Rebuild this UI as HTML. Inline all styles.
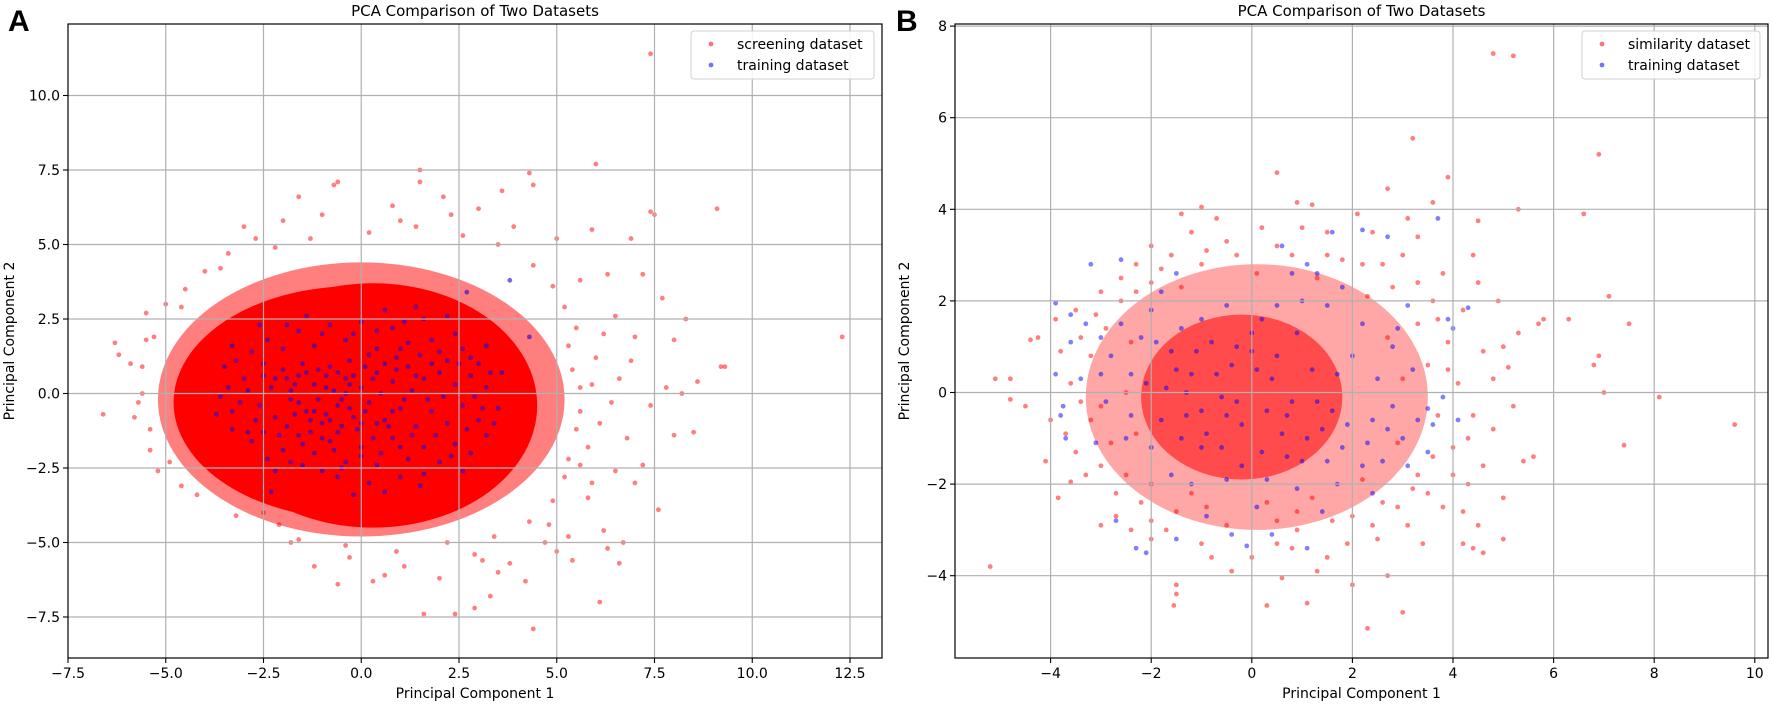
<!DOCTYPE html>
<html><head><meta charset="utf-8"><style>
html,body{margin:0;padding:0;background:#fff;}
svg{display:block;font-family:"DejaVu Sans","Liberation Sans",sans-serif;}
</style></head><body>
<svg id="fig" width="1772" height="705" viewBox="0 0 1772 705" xmlns="http://www.w3.org/2000/svg"></svg>
<script>
// ---------- Panel A data ----------
const aXTicks = [-7.5,-5.0,-2.5,0.0,2.5,5.0,7.5,10.0,12.5];
const aYTicks = [-7.5,-5.0,-2.5,0.0,2.5,5.0,7.5,10.0];
// dense regions of screening dataset: [cx, cy, rx, ry] in data units
const aCore = [-0.2,-0.3,4.6,3.9];
const aCore2 = [0.3,-0.4,4.2,4.1];
const aHalo = [0.0,-0.2,5.2,4.6];
const aRedOutliers = [7.4,11.4, 12.3,1.9, 9.2,0.9, 9.1,6.2, 6.0,7.7, 7.4,6.1, 7.5,6.0, 4.3,7.4, 4.4,7.0, 1.5,7.5, 1.5,7.1, -0.7,7.0, -0.6,7.1, -1.6,6.6,
 -6.6,-0.7, -6.3,1.7, -6.2,1.3, -5.6,0.0, -5.4,-1.9, 4.4,-7.9, 1.6,-7.4, 2.4,-7.4, 2.9,-7.2, 3.3,-6.8, 4.2,-6.3, 6.1,-7.0, 6.6,-5.7, 6.7,-5.0, 7.6,-3.9,
 8.0,-1.4, 8.5,-1.3, 8.2,0.0, 8.6,0.4, 9.3,0.9, 8.3,2.5, 8.0,1.8, 7.7,3.2, 7.2,4.0, 6.9,5.2, 5.9,5.5, -0.3,-5.5, -0.6,-6.4, 0.3,-6.3, -2.1,-4.4, -2.5,-4.0,
 5.4,-5.6, 5.0,-5.3, 3.8,-5.7, 6.3,-5.2, 2.9,-5.4, 1.1,-5.8, 0.6,-6.1, 5.6,3.8, 6.3,4.0, 5.0,5.2, 3.6,6.8, 2.1,6.6, 2.3,6.0, 0.8,6.3, -3.0,5.6, -2.7,5.2,
 -4.5,3.5, -5.0,3.0, -5.5,2.7, -4.0,4.1, -3.4,4.7, 7.0,1.9, 6.8,-1.5, 7.2,-2.4, 6.5,-2.6, 7.0,-3.0, 5.8,-3.5, 6.2,-4.6, 5.3,-4.8, 6.6,0.5, 7.8,0.2,
 7.4,-0.4, 6.0,1.2, 5.5,2.2, 6.5,2.6, 5.8,-1.8, 5.2,-2.8, -1.2,-5.8, -1.8,-5.0, 3.5,-6.0, 2.0,-6.2, 4.7,-5.0, 3.9,5.6, 6.1,-1.0, 6.4,-0.3, 6.9,1.1,
 5.9,0.3, 6.2,2.0, 5.6,-2.4, 5.9,-3.0, 4.8,-4.4, 3.1,-5.6, -5.9,1.0, -5.8,-0.8, -5.5,1.8, -5.2,-2.6, -4.6,-3.1, 1.0,5.8, -1.0,6.0, -2.0,5.8, 3.0,6.2,
 5.4,0.8, 5.6,-0.6, 5.3,1.6, 5.5,-1.2, 5.2,2.9, 4.9,3.6, 4.4,4.3, 3.5,5.0, 2.6,5.3, 1.4,5.6, 0.2,5.4, -1.3,5.2, -2.2,4.9, -3.6,4.2, -4.6,2.9, -5.3,1.9,
 -5.6,0.9, -5.7,-0.3, -5.4,-1.2, -4.9,-2.3, -4.2,-3.4, -3.2,-4.1, -1.6,-4.9, -0.4,-5.1, 0.9,-5.3, 2.2,-5.0, 3.4,-4.8, 4.3,-4.3, 4.9,-3.6, 5.3,-2.2, 5.6,0.2];
const aBlue = [-2.0,0.8, -1.6,0.6, -1.2,0.3, -0.8,0.9, -0.4,0.5, 0.0,0.2, 0.4,0.7, 0.8,0.4, 1.2,0.9, 1.6,0.5, 2.0,0.7, 2.4,0.3, 2.8,0.6, 3.2,0.2,
 -2.6,-0.4, -2.2,-0.8, -1.8,-0.2, -1.4,-0.6, -1.0,-1.0, -0.6,-0.4, -0.2,-0.8, 0.2,-0.3, 0.6,-0.9, 1.0,-0.5, 1.4,-1.1, 1.8,-0.6, 2.2,-1.0, 2.6,-0.4, 3.0,-0.9,
 -3.0,0.5, -3.4,0.2, -3.7,-0.7, -3.3,-1.2, -2.8,-1.6, -2.4,-2.2, -2.0,-1.9, -1.6,-1.4, -1.2,-2.0, -0.8,-1.6, -0.4,-2.3, 0.0,-1.8, 0.4,-2.4, 0.8,-1.5, 1.2,-2.2,
 1.6,-1.8, 2.0,-2.3, 2.4,-1.7, 2.8,-2.0, 3.2,-1.4, -2.8,1.4, -2.4,1.8, -2.0,1.5, -1.6,2.1, -1.2,1.6, -0.8,2.3, -0.4,1.8, 0.0,2.4, 0.4,1.5, 0.8,2.2, 1.2,1.7,
 1.6,2.5, 2.0,1.4, 2.4,2.0, 2.8,1.2, 3.2,1.6, -1.4,2.6, 0.6,2.8, 1.4,2.9, -0.6,-2.8, 0.2,-3.0, -0.2,-3.4, 0.6,-3.3, -1.0,-2.6, 1.6,-2.7, -2.3,-3.3,
 -1.8,0.1, -1.5,1.0, -1.1,-0.2, -0.7,0.1, -0.3,1.1, 0.1,0.9, 0.5,0.0, 0.9,1.2, 1.3,0.1, 1.7,-0.2, -0.1,-1.2, -0.5,-1.1, 0.3,-1.5, 0.7,-1.1, -1.3,-1.3,
 -1.9,-1.1, -2.3,0.2, -2.7,-0.9, -3.1,-0.3, -3.5,0.9, -3.2,1.1, 2.1,-0.1, 2.5,1.0, 2.9,-0.1, 3.5,-0.5, 3.6,0.7, 3.4,-1.0, 2.6,-2.6, 1.0,-2.8, -1.5,-2.4,
 -0.9,0.6, -0.5,-0.2, 0.3,0.5, 1.1,-0.2, -1.7,-0.7, 0.9,0.8, -0.2,0.6, 1.5,1.3, -2.5,1.0, -2.1,-1.4, 3.8,3.8, 2.7,3.4, 4.3,1.9, 1.5,-3.1, -0.4,0.0,
 -1.9,0.5, -1.7,0.3, -1.4,0.7, -1.1,0.8, -0.9,0.2, -0.6,0.7, -0.3,0.3, -1.6,-0.3, -1.3,-0.9, -0.9,-0.7, -0.6,-1.3, -0.3,-0.5, 0.1,-0.6, 0.4,-1.0,
 -0.7,-1.9, -1.0,-1.5, -1.5,-1.7, 0.0,-2.1, 0.5,-2.0, 1.0,-1.8, -0.5,-2.5, 1.3,-1.4, 1.9,-1.4, 2.3,-2.1, -2.2,0.5, -2.5,0.6, -2.9,0.1, -3.3,-0.6,
 -2.9,-1.3, -2.5,-1.3, -2.2,-2.6, -1.8,-2.3, 0.2,1.3, 0.6,1.0, 1.0,1.5, 1.4,0.6, 1.8,1.0, 2.2,1.1, 2.6,1.5, 3.0,1.0, 3.3,0.7, 3.1,-0.5, 2.7,-1.2,
 -2.6,2.3, -1.9,2.3, -1.0,2.0, -0.2,2.0, 0.4,2.1, 1.1,2.4, 1.8,1.8, 2.2,2.6, -3.3,1.6, -3.6,-0.1, -0.8,-0.9, 0.8,-0.6, -1.2,-0.6, 0.0,-1.0];

// ---------- Panel B data ----------
const bXTicks = [-4,-2,0,2,4,6,8,10];
const bYTicks = [-4,-2,0,2,4,6,8];
const bCore = [-0.2,-0.1,2.0,1.8];
const bHalo = [0.1,-0.1,3.4,2.9];
const bRed = [4.8,7.4, 5.2,7.35, 3.2,5.55, 6.9,5.2, 0.5,4.8, 2.7,4.45, 3.9,4.7, 3.6,4.15, 5.3,4.0, 6.6,3.9, -1.0,4.05, -1.4,3.9, 0.9,4.15, 1.2,4.1,
 -0.7,3.8, 4.5,3.75, 7.1,2.1, 6.3,1.6, 7.5,1.5, 5.8,1.6, 5.7,1.5, 6.9,0.8, 6.8,0.6, 7.0,0.0, 8.1,-0.1, 9.6,-0.7, 7.4,-1.15, 5.6,-1.4, 5.0,-2.3, 5.0,-3.2,
 4.4,-3.4, 3.0,-4.8, 2.3,-5.15, 2.0,-4.2, 1.1,-4.6, -1.5,-4.2, -1.5,-4.4, -1.55,-4.65, 0.3,-4.65, 0.6,-4.05, -5.2,-3.8, -4.4,1.15, -4.25,1.2, -5.1,0.3,
 -4.8,0.3, -4.8,-0.15, -4.5,-0.3, -3.85,-2.3, -3.6,-1.95, -4.1,-1.5, 2.7,-4.0, 4.2,-3.3, 4.6,-3.5, 5.4,-1.5, 5.2,-0.3, 5.1,0.55, 4.8,0.3, 5.3,1.3, 4.9,2.0,
 4.4,3.0, 3.3,3.4, 2.1,3.9, 1.5,3.5, -2.0,3.2, -1.6,3.0, -2.3,2.8, -3.0,2.2, -3.5,1.8, -3.9,1.6, -3.7,-0.9, -3.3,-1.8, -3.0,-2.9, -2.7,-2.7, -2.0,-3.2,
 -1.0,-3.3, 0.0,-3.6, 0.8,-3.4, 1.5,-3.6, 2.5,-3.2, 3.1,-2.9, 3.8,-2.5, 4.3,-2.0, 4.0,-1.2, 4.4,-0.5, 4.6,0.9, 4.2,1.8, 3.8,2.6, 3.0,3.0, 2.4,3.5, 0.2,3.6,
 -0.5,3.3, -2.6,2.0, -3.2,0.8, -3.6,0.2, -3.2,-0.6, -2.5,-1.8, -1.5,-2.6, -0.5,-2.9, 0.5,-2.8, 1.6,-2.8, 2.6,-2.4, 3.3,-1.8, 3.7,-0.5, 3.5,0.6, 3.3,1.5,
 2.8,2.3, 1.8,2.9, 0.8,3.0, -1.0,2.8, -2.0,2.4, -2.9,1.4, -3.0,-0.3, -2.8,-1.1, -2.2,-2.4, -1.2,-2.2, 0.3,-2.4, 1.2,-2.3, 2.2,-1.9, 2.9,-1.1, 3.0,0.3,
 2.7,1.2, 2.3,2.1, 1.3,2.5, 0.1,2.6, -1.4,2.3, -2.4,1.1, -2.5,0.0, -2.3,-0.9, 4.1,0.2, 4.3,-1.0, 3.9,1.1, 3.6,2.0, 2.2,2.8, -0.3,3.0, -1.8,2.7, -3.4,1.2,
 -3.5,-1.3, -2.0,-2.8, 0.9,-3.0, 2.0,-2.7, 3.5,-2.2, 4.6,-1.6, 4.8,-0.8, 5.0,1.0, 4.5,2.4, 3.1,3.8, 1.0,3.6, -1.2,3.5, -2.6,2.5, -3.8,0.9, -4.0,-0.6,
 -2.7,-2.2, -1.7,-3.0, -0.8,-3.6, 0.5,-3.3, 1.9,-3.3, 2.9,-2.5, 3.6,-1.4, 4.0,-1.8, 3.9,0.5, 3.7,1.6, 3.3,2.4, 2.6,2.8, 1.5,3.0, 0.5,3.2, -0.9,3.1,
 -2.3,2.2, -3.1,1.7, -3.4,-0.2, -3.0,-1.6, -2.0,-2.0, -0.9,-2.5, 0.9,-2.6, 2.4,-2.9, 3.2,-2.1, 4.2,-2.6, 4.5,-2.9, 3.4,-3.3, 1.3,-3.9, -0.4,-3.9, -2.4,-3.0];
const bBlue = [-3.2,2.8, -2.6,2.9, -3.9,1.95, -3.6,1.1, -3.9,0.4, -3.8,-0.5, -3.75,-0.3, -3.1,-1.1, -2.7,-2.8, -2.3,-3.4, -2.1,-3.5, -1.5,-3.2, -0.4,-3.1,
 -0.1,-3.35, 0.4,-3.1, 1.1,-3.4, 1.4,-2.6, 2.4,-2.2, 2.6,-1.5, 3.5,-1.3, 3.6,-0.7, 3.5,-0.35, 4.1,-0.6, 3.8,-0.1, 4.0,1.4, 3.9,1.6, 4.3,1.85, 3.7,3.8,
 2.7,3.4, 2.2,3.55, 1.6,3.5, 1.3,2.6, 1.1,2.8, 0.8,2.6, 0.6,3.2, -1.5,2.6, -2.0,1.8, -2.6,1.5, -3.3,1.5, -3.4,0.3, -2.1,0.2, -1.6,0.9, -1.2,0.4, -0.8,1.1,
 -0.4,0.6, 0.0,0.9, 0.4,0.3, 0.8,-0.2, 1.2,0.5, 1.6,-0.4, 2.0,0.8, 2.4,-0.6, 2.8,-0.3, 3.2,0.5, -1.8,-0.6, -1.4,-1.0, -1.0,-0.4, -0.6,-1.2, -0.2,-0.7,
 0.2,-1.3, 0.6,-0.9, 1.0,-1.5, 1.4,-0.8, 1.8,-1.2, 2.2,-1.6, -1.6,-1.8, -1.2,-2.0, -0.5,-1.9, 0.3,-1.9, 0.9,-2.1, 1.7,-2.0, -2.4,-0.5, -2.8,0.8, -2.2,1.2,
 -1.0,1.6, -0.5,1.9, 0.2,1.6, 0.9,1.3, 1.5,1.9, 2.2,1.5, 2.8,1.0, 3.0,-1.0, 3.1,1.9, -0.9,-2.7, 0.1,-2.5, -1.3,0.0, 0.5,0.8, -0.3,-0.2, 1.3,-0.2,
 -1.5,0.5, -1.1,0.9, -0.7,0.4, -0.3,1.0, 0.1,0.5, -1.7,0.1, -1.3,-0.5, -0.9,-0.9, -0.5,-0.5, 0.3,-0.4, 0.7,-1.4, 1.1,-1.0, 1.5,-1.5, 1.9,-0.7, 2.3,-1.1,
 -2.0,-1.2, -2.5,-1.0, -2.9,-0.2, -3.0,0.4, -2.4,0.4, -1.9,1.1, -1.4,1.4, 0.5,1.9, 1.0,2.0, 1.8,2.3, 2.5,0.3, 2.7,-0.8, 3.1,-1.6, -0.2,-1.6, -1.0,-1.2,
 -3.0,1.2, -3.6,1.7, -3.7,-1.0, -1.8,2.2, 0.0,1.3, 0.7,-0.5, -0.6,-0.1, 1.7,0.4, 2.9,1.4, 3.3,-0.6];

// ---------- helpers ----------
const NS = "http://www.w3.org/2000/svg";
const svg = document.getElementById('fig');
function mk(tag, attrs, parent) {
  const e = document.createElementNS(NS, tag);
  for (const k in attrs) e.setAttribute(k, attrs[k]);
  (parent || svg).appendChild(e);
  return e;
}
function fmt(v, dec) {
  const s = v.toFixed(dec);
  return v < 0 ? '\u2212' + s.slice(1) : s;
}

function panel(cfg) {
  const g = mk('g', {});
  
  
  const L = cfg.left, R = cfg.right, T = cfg.top, B = cfg.bottom;
  const sx = v => L + (v - cfg.xmin) / (cfg.xmax - cfg.xmin) * (R - L);
  const sy = v => B - (v - cfg.ymin) / (cfg.ymax - cfg.ymin) * (B - T);
  const clipId = 'clip-' + cfg.name;
  const defs = mk('defs', {}, g);
  const cp = mk('clipPath', {id: clipId}, defs);
  mk('rect', {x: L, y: T, width: R - L, height: B - T}, cp);
  const plot = mk('g', {'clip-path': 'url(#' + clipId + ')'}, g);
  
  

  cfg.ellipses.forEach(([e, col, op]) => {
    const el = mk('ellipse', {cx: sx(e[0]), cy: sy(e[1]), rx: Math.abs(sx(e[2]) - sx(0)), ry: Math.abs(sy(0) - sy(e[3])), fill: col, 'fill-opacity': op}, plot);
    
    
  });
  cfg.series.forEach(([arr, col, op, nm]) => {
    for (let i = 0; i < arr.length; i += 2) {
      const c = mk('circle', {cx: sx(arr[i]), cy: sy(arr[i + 1]), r: 2.4, fill: col, 'fill-opacity': op}, plot);
      
      
    }
  });
  cfg.xticks.forEach(t => {
    const x = sx(t);
    if (x > L + 1 && x < R - 1) {
      const l = mk('line', {x1: x, x2: x, y1: T, y2: B, stroke: '#b0b0b0', 'stroke-width': 1.2}, g);
      
      
    }
  });
  cfg.yticks.forEach(t => {
    const y = sy(t);
    if (y > T + 1 && y < B - 1) {
      const l = mk('line', {x1: L, x2: R, y1: y, y2: y, stroke: '#b0b0b0', 'stroke-width': 1.2}, g);
      
      
    }
  });
  const fr = mk('rect', {x: L, y: T, width: R - L, height: B - T, fill: 'none', stroke: '#000', 'stroke-width': 1.2}, g);
  
  
  cfg.xticks.forEach(t => {
    const x = sx(t);
    mk('line', {x1: x, x2: x, y1: B, y2: B + 5, stroke: '#000', 'stroke-width': 1.1}, g);
    const tx = mk('text', {x: x, y: B + 20, 'text-anchor': 'middle', 'font-size': 14, fill: '#000'}, g);
    tx.textContent = fmt(t, cfg.dec);
    
    
  });
  cfg.yticks.forEach(t => {
    const y = sy(t);
    mk('line', {x1: L - 5, x2: L, y1: y, y2: y, stroke: '#000', 'stroke-width': 1.1}, g);
    const tx = mk('text', {x: L - 8, y: y + 5, 'text-anchor': 'end', 'font-size': 14, fill: '#000'}, g);
    tx.textContent = fmt(t, cfg.dec);
    
    
  });
  const xl = mk('text', {x: (L + R) / 2, y: B + 40, 'text-anchor': 'middle', 'font-size': 14}, g);
  xl.textContent = 'Principal Component 1';
  
  
  const yx = cfg.ylabelX, yy = (T + B) / 2;
  const yl = mk('text', {x: yx, y: yy, 'text-anchor': 'middle', 'font-size': 14, transform: 'rotate(-90 ' + yx + ' ' + yy + ')'}, g);
  yl.textContent = 'Principal Component 2';
  
  
  const ti = mk('text', {x: (L + R) / 2, y: T - 8, 'text-anchor': 'middle', 'font-size': 15}, g);
  ti.textContent = 'PCA Comparison of Two Datasets';
  
  
  const pl = mk('text', {x: cfg.letterX, y: 31, 'font-size': 30, 'font-weight': 'bold', 'font-family': '"Liberation Sans", sans-serif'}, g);
  pl.textContent = cfg.letter;
  
  
  const lg = mk('g', {}, g);
  
  
  mk('rect', {x: cfg.legX, y: 31, width: R - 8 - cfg.legX, height: 48, rx: 3, fill: '#fff', 'fill-opacity': 0.85, stroke: '#d0d0d0', 'stroke-width': 1}, lg);
  cfg.legend.forEach(([label, col], i) => {
    const y = 44 + i * 21;
    const e = mk('g', {}, lg);
    
    
    mk('circle', {cx: cfg.legX + 20, cy: y, r: 2.4, fill: col, 'fill-opacity': 0.55}, e);
    const t = mk('text', {x: cfg.legX + 46, y: y + 5, 'font-size': 14}, e);
    t.textContent = label;
  });
}

panel({name: 'panel-a', left: 68, right: 882, top: 24, bottom: 658,
  xmin: -7.5, xmax: -7.5 + (882 - 68) / 39.1, ymin: -7.5 - (658 - 617) / 29.8, ymax: -7.5 + (617 - 24) / 29.8,
  xticks: aXTicks, yticks: aYTicks, dec: 1, ylabelX: 14, letter: 'A', letterX: 8, legX: 691,
  ellipses: [[aHalo, '#ff0000', 0.5], [aCore, '#ff0000', 1], [aCore2, '#ff0000', 1]],
  series: [[aRedOutliers, '#ff0000', 0.5, 'screening-point'], [aBlue, '#1a00e0', 0.6, 'training-point']],
  legend: [['screening dataset', '#ff0000'], ['training dataset', '#0000ff']]});

panel({name: 'panel-b', left: 955, right: 1768, top: 24, bottom: 658,
  xmin: -4 - (1050.6 - 955) / 50.3, xmax: -4 + (1768 - 1050.6) / 50.3, ymin: -4 - (658 - 575.7) / 45.8, ymax: -4 + (575.7 - 24) / 45.8,
  xticks: bXTicks, yticks: bYTicks, dec: 0, ylabelX: 909, letter: 'B', letterX: 896, legX: 1582,
  ellipses: [[bHalo, '#ff2020', 0.4], [bCore, '#ff0000', 0.55]],
  series: [[bRed, '#ff0000', 0.5, 'similarity-point'], [bBlue, '#0000ff', 0.5, 'training-point']],
  legend: [['similarity dataset', '#ff0000'], ['training dataset', '#0000ff']]});
</script>
</body></html>
